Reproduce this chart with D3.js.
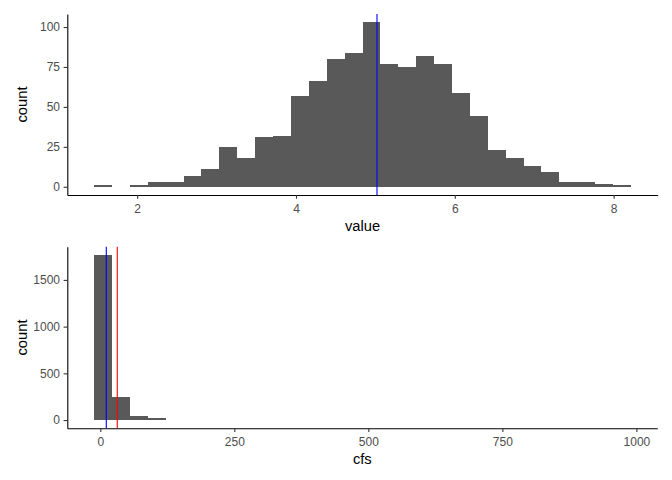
<!DOCTYPE html>
<html>
<head>
<meta charset="utf-8">
<script src="https://cdn.jsdelivr.net/npm/d3@7"></script>
<style>
  body { margin: 0; background: #fff; }
  text { font-family: "Liberation Sans", Arial, sans-serif; }
</style>
</head>
<body>
<svg id="chart" width="672" height="480"></svg>
<script>
// top histogram: 30 bins of "value"
const valueBinStart = 1.458;
const valueBinWidth = 0.2253;
const valueCounts = [1, 0, 1, 3, 3, 7, 11, 25, 18, 31, 32, 57, 66, 80, 84,
                     103, 77, 75, 82, 77, 59, 44, 23, 18, 13, 9, 3, 3, 2, 1];
const valueTicksX = [2, 4, 6, 8];
const valueTicksY = [0, 25, 50, 75, 100];
const valueLines = [{ x: 5.02, color: '#0000ff' }];

// bottom histogram: 30 bins of "cfs"
const cfsBinStart = -11.5;
const cfsBinWidth = 33.35;
const cfsCounts = [1767, 245, 48, 27, 0, 0, 0, 0, 0, 0, 0, 0, 0, 0, 0,
                   0, 0, 0, 0, 0, 0, 0, 0, 0, 0, 0, 0, 0, 0, 0];
const cfsTicksX = [0, 250, 500, 750, 1000];
const cfsTicksY = [0, 500, 1000, 1500];
const cfsLines = [{ x: 11.2, color: '#0000ff' }, { x: 31.7, color: '#ff0000' }];

const svg = d3.select('#chart');

drawHist({
  counts: valueCounts, start: valueBinStart, width: valueBinWidth,
  ticksX: valueTicksX, ticksY: valueTicksY, lines: valueLines,
  xTitle: 'value', left: 67.3, right: 657.7, top: 14, bottom: 195
});

drawHist({
  counts: cfsCounts, start: cfsBinStart, width: cfsBinWidth,
  ticksX: cfsTicksX, ticksY: cfsTicksY, lines: cfsLines,
  xTitle: 'cfs', left: 67.3, right: 657.3, top: 246.7, bottom: 428.3
});

function drawHist(cfg) {
  const bins = cfg.counts.map((c, i) => ({
    x0: cfg.start + i * cfg.width,
    x1: cfg.start + (i + 1) * cfg.width,
    count: c
  }));
  const lo = bins[0].x0, hi = bins[bins.length - 1].x1;
  const padX = (hi - lo) * 0.05;
  const maxY = d3.max(cfg.counts);
  const padY = maxY * 0.05;

  const x = d3.scaleLinear()
    .domain([lo - padX, hi + padX])
    .range([cfg.left, cfg.right]);
  const y = d3.scaleLinear()
    .domain([-padY, maxY + padY])
    .range([cfg.bottom, cfg.top]);

  const g = svg.append('g');

  g.selectAll('rect')
    .data(bins.filter(d => d.count > 0))
    .enter()
    .append('rect')
    .attr('x', d => x(d.x0))
    .attr('width', d => x(d.x1) - x(d.x0))
    .attr('y', d => y(d.count))
    .attr('height', d => y(0) - y(d.count))
    .attr('fill', '#595959')
    .attr('shape-rendering', 'crispEdges');

  g.selectAll('line.vl')
    .data(cfg.lines)
    .enter()
    .append('line')
    .attr('class', 'vl')
    .attr('x1', d => x(d.x))
    .attr('x2', d => x(d.x))
    .attr('y1', cfg.top)
    .attr('y2', cfg.bottom)
    .attr('stroke', d => d.color)
    .attr('stroke-width', 1.1);

  const ax = g.append('g')
    .attr('transform', `translate(0,${cfg.bottom})`)
    .call(d3.axisBottom(x).tickValues(cfg.ticksX).tickFormat(d3.format('d'))
      .tickSize(3.7).tickSizeOuter(0).tickPadding(5.3));
  const ay = g.append('g')
    .attr('transform', `translate(${cfg.left},0)`)
    .call(d3.axisLeft(y).tickValues(cfg.ticksY).tickFormat(d3.format('d'))
      .tickSize(3.7).tickSizeOuter(0).tickPadding(3.6));

  [ax, ay].forEach(a => {
    a.select('.domain').attr('stroke', '#000').attr('stroke-width', 1.1);
    a.selectAll('.tick line').attr('stroke', '#333').attr('stroke-width', 1.1);
    a.selectAll('.tick text')
      .attr('fill', '#4d4d4d')
      .style('font-size', '12px')
      .style('font-family', '"Liberation Sans", Arial, sans-serif');
  });

  g.append('text')
    .attr('x', (cfg.left + cfg.right) / 2)
    .attr('y', cfg.bottom + 36)
    .attr('text-anchor', 'middle')
    .style('font-size', '14.7px')
    .attr('fill', '#000')
    .text(cfg.xTitle);

  g.append('text')
    .attr('transform', `translate(27.3,${(cfg.top + cfg.bottom) / 2}) rotate(-90)`)
    .attr('text-anchor', 'middle')
    .style('font-size', '14.7px')
    .attr('fill', '#000')
    .text('count');
}
</script>
</body>
</html>
